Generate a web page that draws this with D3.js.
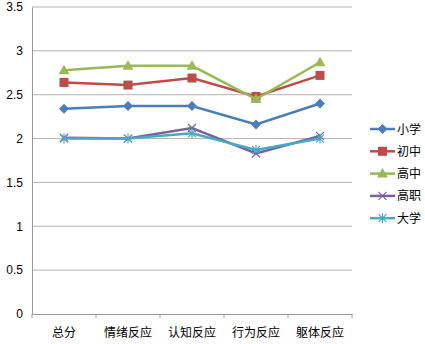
<!DOCTYPE html>
<html>
<head>
<meta charset="utf-8">
<style>
  body { margin: 0; background: #fff; }
  text { font-family: "Noto Sans CJK SC", "DejaVu Sans", sans-serif; font-size: 12px; fill: #000; }
</style>
</head>
<body>
<div id="chart"></div>
<script src="https://d3js.org/d3.v7.min.js"></script>
<script>
const categories = ["总分", "情绪反应", "认知反应", "行为反应", "躯体反应"];
const seriesNames = ["小学", "初中", "高中", "高职", "大学"];
const xiaoxue = [2.34, 2.37, 2.37, 2.16, 2.40];
const chuzhong = [2.64, 2.61, 2.69, 2.48, 2.72];
const gaozhong = [2.78, 2.83, 2.83, 2.45, 2.87];
const gaozhi = [2.01, 2.00, 2.12, 1.83, 2.03];
const daxue = [2.00, 2.00, 2.06, 1.87, 2.00];
const yTicks = [0, 0.5, 1, 1.5, 2, 2.5, 3, 3.5];

const colors = ["#4a7ebb", "#be4b48", "#98b954", "#7d60a0", "#46aac5"];
const shapes = ["diamond", "square", "triangle", "x", "star"];
const series = [xiaoxue, chuzhong, gaozhong, gaozhi, daxue];

const W = 425, H = 344;
const plotLeft = 32, plotRight = 352, plotTop = 7, plotBottom = 314;

const svg = d3.select("#chart").append("svg").attr("width", W).attr("height", H);

const x = d3.scaleBand().domain(categories).range([plotLeft, plotRight]);
const y = d3.scaleLinear().domain([0, 3.5]).range([plotBottom, plotTop]);

// gridlines
svg.append("g").selectAll("line").data(yTicks.filter(d => d > 0)).enter().append("line")
  .attr("x1", plotLeft).attr("x2", plotRight)
  .attr("y1", d => y(d)).attr("y2", d => y(d))
  .attr("stroke", "#b3b3b3").attr("stroke-width", 1);

// y axis
const yAxis = svg.append("g").attr("transform", "translate(" + plotLeft + ",0)")
  .call(d3.axisLeft(y).tickValues(yTicks).tickFormat(d => d).tickSize(0).tickPadding(9));
yAxis.select(".domain").attr("stroke", "#999");
yAxis.selectAll("text").style("font-family", "'Liberation Sans', Arial, sans-serif").style("font-size", "12px");

// x axis
const xAxis = svg.append("g").attr("transform", "translate(0," + plotBottom + ")")
  .call(d3.axisBottom(x).tickSize(0).tickPadding(14));
xAxis.select(".domain").attr("stroke", "#999");
xAxis.selectAll("text").style("font-size", "12px");
svg.append("g").selectAll("line").data(categories.concat([null])).enter().append("line")
  .attr("x1", (d, i) => plotLeft + i * x.bandwidth()).attr("x2", (d, i) => plotLeft + i * x.bandwidth())
  .attr("y1", plotBottom).attr("y2", plotBottom + 4).attr("stroke", "#999");

function marker(g, shape, color, cx, cy) {
  if (shape === "diamond") {
    g.append("path").attr("d", `M${cx},${cy - 5}L${cx + 5},${cy}L${cx},${cy + 5}L${cx - 5},${cy}Z`).attr("fill", color);
  } else if (shape === "square") {
    g.append("rect").attr("x", cx - 4.5).attr("y", cy - 4.5).attr("width", 9).attr("height", 9).attr("fill", color);
  } else if (shape === "triangle") {
    g.append("path").attr("d", `M${cx},${cy - 5.5}L${cx + 5.5},${cy + 4}L${cx - 5.5},${cy + 4}Z`).attr("fill", color);
  } else if (shape === "x") {
    g.append("path").attr("d", `M${cx - 4},${cy - 4}L${cx + 4},${cy + 4}M${cx - 4},${cy + 4}L${cx + 4},${cy - 4}`)
      .attr("stroke", color).attr("stroke-width", 1.2);
  } else {
    g.append("path").attr("d", `M${cx - 4},${cy - 4}L${cx + 4},${cy + 4}M${cx - 4},${cy + 4}L${cx + 4},${cy - 4}M${cx},${cy - 5}L${cx},${cy + 5}`)
      .attr("stroke", color).attr("stroke-width", 1.2);
  }
}

const line = d3.line().x((d, i) => x(categories[i]) + x.bandwidth() / 2).y(d => y(d));

series.forEach((vals, s) => {
  const g = svg.append("g");
  g.append("path").datum(vals).attr("d", line).attr("fill", "none")
    .attr("stroke", colors[s]).attr("stroke-width", 2.5);
  vals.forEach((v, i) => marker(g, shapes[s], colors[s], x(categories[i]) + x.bandwidth() / 2, y(v)));
});

// legend
const legend = svg.append("g");
seriesNames.forEach((name, s) => {
  const ly = 129 + s * 22.3;
  const g = legend.append("g");
  g.append("line").attr("x1", 370).attr("x2", 395).attr("y1", ly).attr("y2", ly)
    .attr("stroke", colors[s]).attr("stroke-width", 2.5);
  marker(g, shapes[s], colors[s], 382.5, ly);
  g.append("text").attr("x", 397).attr("y", ly + 4.5).text(name);
});
</script>
</body>
</html>
